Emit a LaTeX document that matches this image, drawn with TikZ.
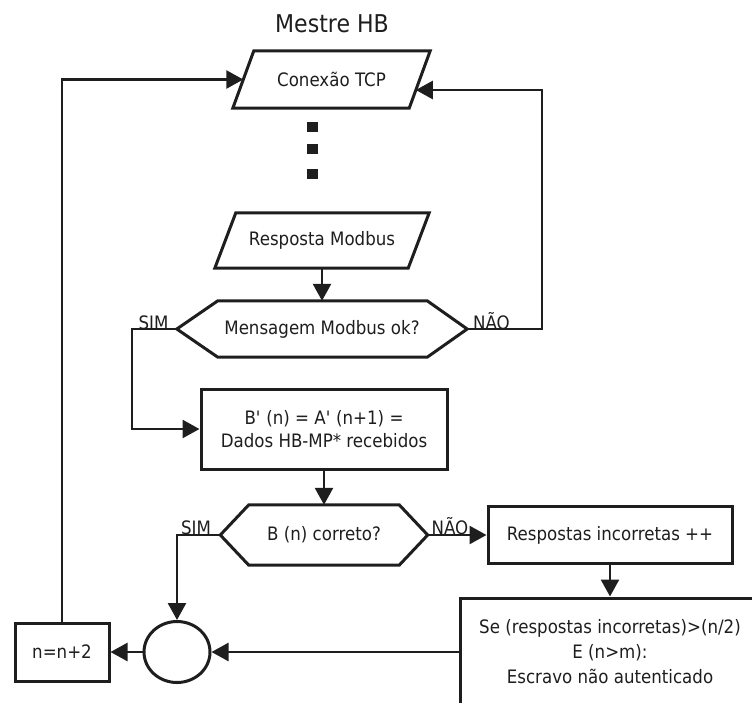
\documentclass[tikz,border=0pt]{standalone}
\usepackage{fontspec}
\setmainfont{DejaVu Sans}[FakeStretch=0.9]
\usetikzlibrary{arrows.meta,calc,shapes.geometric}

\definecolor{ink}{HTML}{1E1E1E}

\begin{document}
\begin{tikzpicture}[x=1pt,y=-1pt, color=ink,
  txt/.style={font=\fontsize{18.5}{23}\selectfont},
  lbl/.style={font=\fontsize{18.5}{20}\selectfont, inner sep=0pt, anchor=base},
  frame/.style={line width=3pt, line join=miter},
  link/.style={line width=2.6pt},
  arr/.style={link, -{Triangle[length=17pt,width=18pt]}},
  boxnode/.style={txt, draw, frame, rectangle, align=center, inner sep=0pt},
  hidden/.style={txt, rectangle, inner sep=0pt, align=center},
  dotmark/.style={fill, rectangle, inner sep=0pt, minimum width=11pt, minimum height=10pt}
]
\useasboundingbox (0,0) rectangle (752,702);
\clip (0,0) rectangle (752,702);

% heading
\node[font=\fontsize{24.5}{28}\selectfont] (title) at (332,24) {Mestre HB};

% input/output parallelograms (node box = mid-line of the shape)
\node[hidden, minimum width=176pt, minimum height=57pt] (conn) at (331.5,79.5) {Conexão TCP};
\draw[frame] ($(conn.north west)+(10.5,0)$) -- ($(conn.north east)+(10.5,0)$)
  -- ($(conn.south east)-(10.5,0)$) -- ($(conn.south west)-(10.5,0)$) -- cycle;

\node[dotmark] (dot1) at (312,127) {};
\node[dotmark] (dot2) at (312,149) {};
\node[dotmark] (dot3) at (312,174) {};

\node[hidden, minimum width=193pt, minimum height=55pt] (resp) at (322,240.5) {Resposta Modbus};
\draw[frame] ($(resp.north west)+(10.5,0)$) -- ($(resp.north east)+(10.5,0)$)
  -- ($(resp.south east)-(10.5,0)$) -- ($(resp.south west)-(10.5,0)$) -- cycle;

% first decision
\node[hidden, minimum width=290pt, minimum height=56pt] (ask1) at (322,329) {Mensagem Modbus ok?};
\draw[frame] (ask1.west) -- ($(ask1.north west)+(41,0)$) -- ($(ask1.north east)-(40,0)$)
  -- (ask1.east) -- ($(ask1.south east)-(40,0)$) -- ($(ask1.south west)+(41,0)$) -- cycle;
\node[lbl] (sim1) at (153.5,329) {SIM};
\node[lbl] (nao1) at (491.5,329) {NÃO};

% data received
\node[boxnode, minimum width=246pt, minimum height=80pt] (box1) at (324,429)
  {B\textquotesingle{} (n) = A\textquotesingle{} (n+1) =\\Dados HB-MP* recebidos};

% second decision
\node[hidden, minimum width=207pt, minimum height=60pt] (ask2) at (324,535) {B (n) correto?};
\draw[frame] (ask2.west) -- ($(ask2.north west)+(28.5,0)$) -- ($(ask2.north east)-(28.5,0)$)
  -- (ask2.east) -- ($(ask2.south east)-(28.5,0)$) -- ($(ask2.south west)+(28.5,0)$) -- cycle;
\node[lbl] (sim2) at (196,534) {SIM};
\node[lbl] (nao2) at (450,534) {NÃO};

\node[boxnode, minimum width=244pt, minimum height=57pt] (box2) at (610,535) {Respostas incorretas ++};

\node[boxnode, minimum width=300pt, minimum height=108pt,
      font=\fontsize{18.5}{25}\selectfont] (box3) at (610,652)
  {Se (respostas incorretas)>(n/2)\\E (n>m):\\Escravo não autenticado};

% junction and counter
\node[ellipse, draw, frame, minimum width=66pt, minimum height=61pt, inner sep=0pt] (circ) at (177,652) {};
\node[boxnode, minimum width=94pt, minimum height=58pt] (box4) at (62,652) {n=n+2};

% connectors
\coordinate (connin) at ($(conn.east)+(-3.9,10.5)$);
\coordinate (simbend) at (132,329);
\coordinate (naobend) at (542,329);

\draw[arr] (resp.south) -- (ask1.north);
\draw[arr] (ask1.west) -- (simbend) |- (box1.west);
\draw[arr] (ask1.east) -- (naobend) |- (connin);
\draw[arr] (box1.south) -- (ask2.north);
\draw[arr] (ask2.west) -| (circ.north);
\draw[arr] (ask2.east) -- (box2.west);
\draw[arr] (box2.south) -- (box3.north);
\draw[arr] (box3.west) -- (circ.east);
\draw[arr] (circ.west) -- (box4.east);
\draw[arr] (box4.north) |- (conn.west);
\end{tikzpicture}
\end{document}
